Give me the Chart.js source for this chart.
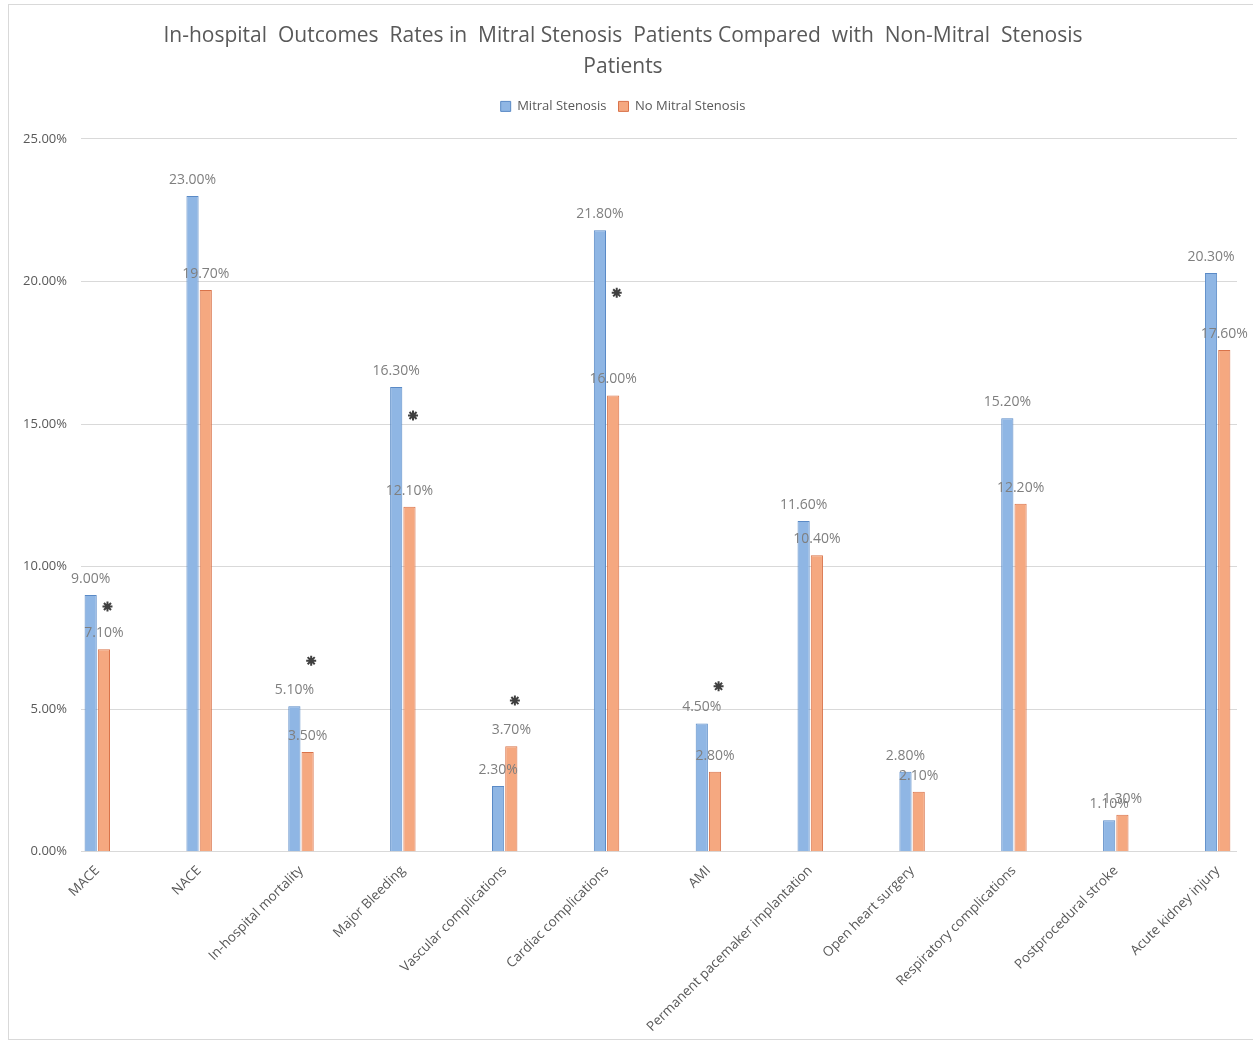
<!DOCTYPE html>
<html>
<head>
<meta charset="utf-8">
<script src="https://cdn.jsdelivr.net/npm/chart.js@4.4.1/dist/chart.umd.min.js"></script>
<style>
  body { margin: 0; background: #fff; }
  #wrap { position: absolute; left: 8px; top: 4px; width: 1245px; height: 1036px; border: 1px solid #d9d9d9; border-right: none; box-sizing: border-box; }
</style>
</head>
<body>
<div id="wrap"><canvas id="outcomes"></canvas></div>
<script>
// outcome categories
const categories = ['MACE', 'NACE', 'In-hospital mortality', 'Major Bleeding', 'Vascular complications',
  'Cardiac complications', 'AMI', 'Permanent pacemaker implantation', 'Open heart surgery',
  'Respiratory complications', 'Postprocedural stroke', 'Acute kidney injury'];

// rates in %
const mitralStenosis = [9.0, 23.0, 5.1, 16.3, 2.3, 21.8, 4.5, 11.6, 2.8, 15.2, 1.1, 20.3];
const noMitralStenosis = [7.1, 19.7, 3.5, 12.1, 3.7, 16.0, 2.8, 10.4, 2.1, 12.2, 1.3, 17.6];

// height of the significance asterisk (null = not significant)
const sigLevel = [8.6, null, 6.7, 15.3, 5.3, 19.6, 5.8, null, null, null, null, null];

const yTicks = [0, 5, 10, 15, 20, 25];

const grey = '#595959';

// draws the value above each bar
const valueLabels = {
  id: 'valueLabels',
  afterDatasetsDraw(chart) {
    const ctx = chart.ctx;
    ctx.save();
    ctx.font = '14px "Open Sans", sans-serif';
    ctx.fillStyle = '#7f7f7f';
    ctx.textAlign = 'center';
    ctx.textBaseline = 'middle';
    chart.data.datasets.forEach((ds, di) => {
      if (ds.type == 'line') return;
      chart.getDatasetMeta(di).data.forEach((bar, i) => {
        ctx.fillText(ds.data[i].y.toFixed(2) + '%', bar.x, bar.y - 16);
      });
    });
    ctx.restore();
  }
};

// extra room under the legend
const legendGap = {
  id: 'legendGap',
  beforeInit(chart) {
    const fit = chart.legend.fit;
    chart.legend.fit = function () {
      fit.bind(chart.legend)();
      this.height += 16;
    };
  }
};

const pts = arr => arr.map((v, i) => ({x: i, y: v}));

new Chart(document.getElementById('outcomes').getContext('2d'), {
  type: 'bar',
  data: {
    datasets: [{
      label: 'Mitral Stenosis',
      data: pts(mitralStenosis),
      backgroundColor: '#8fb6e4',
      borderColor: '#5a8ac6',
      borderWidth: 1,
      barPercentage: 0.92,
      categoryPercentage: 0.26
    }, {
      label: 'No Mitral Stenosis',
      data: pts(noMitralStenosis),
      backgroundColor: '#f5a880',
      borderColor: '#d9734a',
      borderWidth: 1,
      barPercentage: 0.92,
      categoryPercentage: 0.26
    }, {
      type: 'line',
      label: 'sig',
      data: sigLevel.map((v, i) => v == null ? null : {x: i + 0.1, y: v}).filter(p => p),
      showLine: false,
      pointStyle: 'star',
      pointRadius: 5,
      borderWidth: 2,
      borderColor: '#404040',
      backgroundColor: '#404040'
    }]
  },
  options: {
    responsive: true,
    maintainAspectRatio: false,
    animation: false,
    layout: { padding: { left: 0, right: 16, top: 6, bottom: 1 } },
    plugins: {
      title: {
        display: true,
        text: ['In-hospital  Outcomes  Rates in  Mitral Stenosis  Patients Compared  with  Non-Mitral  Stenosis', 'Patients'],
        color: grey,
        font: { family: '"Open Sans", sans-serif', size: 21, weight: 'normal', lineHeight: 1.45 },
        padding: { top: 10, bottom: 6 }
      },
      legend: {
        labels: {
          filter: item => item.text != 'sig',
          color: grey,
          boxWidth: 10,
          boxHeight: 10,
          font: { family: '"Open Sans", sans-serif', size: 13 },
          padding: 12
        }
      },
      tooltip: { enabled: false }
    },
    scales: {
      x: {
        type: 'linear',
        offset: false,
        min: -0.16,
        max: 11.19,
        afterBuildTicks: s => { s.ticks = categories.map((c, i) => ({value: i})); },
        grid: { display: false },
        border: { display: false },
        ticks: {
          autoSkip: false,
          maxRotation: 45,
          minRotation: 45,
          color: grey,
          font: { family: '"Open Sans", sans-serif', size: 13.5 },
          callback: v => categories[v]
        }
      },
      y: {
        min: 0,
        max: 25,
        afterBuildTicks: s => { s.ticks = yTicks.map(v => ({value: v})); },
        afterFit: s => { s.width = 72; },
        grid: { color: '#d9d9d9', drawTicks: false },
        border: { display: false },
        ticks: {
          padding: 14,
          color: grey,
          font: { family: '"Open Sans", sans-serif', size: 13 },
          callback: v => v.toFixed(2) + '%'
        }
      }
    }
  },
  plugins: [valueLabels, legendGap]
});
</script>
</body>
</html>
